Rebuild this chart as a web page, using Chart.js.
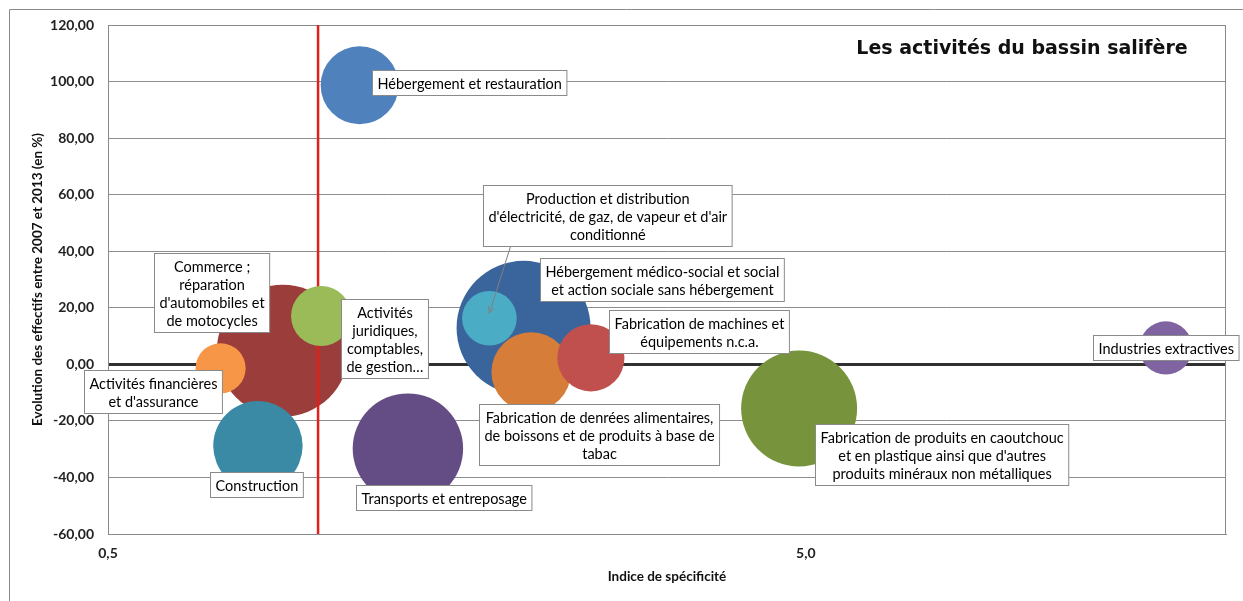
<!DOCTYPE html>
<html lang="fr">
<head>
<meta charset="utf-8">
<title>Les activités du bassin salifère</title>
<script src="https://cdn.jsdelivr.net/npm/chart.js@4.4.1/dist/chart.umd.min.js"></script>
<style>
  html, body { margin: 0; padding: 0; background: #fff; }
  #wrap { width: 1243px; height: 601px; }
</style>
</head>
<body>
<div id="wrap"><canvas id="bassin" width="1243" height="601"></canvas></div>
<script>
// secteurs, du plus bas (dessiné en premier) au plus haut
const secteurs = [
  "Commerce ; réparation d'automobiles et de motocycles",
  "Hébergement médico-social et social et action sociale sans hébergement",
  "Hébergement et restauration",
  "Activités juridiques, comptables, de gestion...",
  "Activités financières et d'assurance",
  "Construction",
  "Transports et entreposage",
  "Production et distribution d'électricité, de gaz, de vapeur et d'air conditionné",
  "Fabrication de denrées alimentaires, de boissons et de produits à base de tabac",
  "Fabrication de machines et équipements n.c.a.",
  "Fabrication de produits en caoutchouc et en plastique ainsi que d'autres produits minéraux non métalliques",
  "Industries extractives"
];
// indice de spécificité
const indice = [0.89, 1.97, 1.147, 1.01, 0.725, 0.82, 1.345, 1.76, 2.02, 2.46, 4.89, 16.4];
// évolution des effectifs 2007-2013 (en %)
const evolution = [4.8, 12.9, 98.7, 17.1, -1.4, -28.8, -29.8, 16.3, -2.7, 2.3, -15.6, 5.8];
// effectifs salariés (taille des bulles)
const effectifs = [2220, 2290, 775, 460, 320, 1020, 1555, 380, 805, 575, 1715, 360];
const ticksIndice = [0.5, 5];
const seuilIndice = 1;

// texte des étiquettes, ligne par ligne
const etiquettes = [
  ['Commerce ;', 'réparation', "d'automobiles et", 'de motocycles'],
  ['Hébergement médico-social et social', 'et action sociale sans hébergement'],
  ['Hébergement et restauration'],
  ['Activités', 'juridiques,', 'comptables,', 'de gestion…'],
  ['Activités financières', "et d'assurance"],
  ['Construction'],
  ['Transports et entreposage'],
  ['Production et distribution', "d'électricité, de gaz, de vapeur et d'air", 'conditionné'],
  ['Fabrication de denrées alimentaires,', 'de boissons et de produits à base de', 'tabac'],
  ['Fabrication de machines et', 'équipements n.c.a.'],
  ['Fabrication de produits en caoutchouc', "et en plastique ainsi que d'autres", 'produits minéraux non métalliques'],
  ['Industries extractives']
];
// décalage du centre de l'étiquette par rapport à la bulle (px)
const decalages = [
  [-71, -58], [138, -48], [110, -3], [63, 23], [-68, 23], [-1, 39],
  [36, 49], [118, -103], [68, 63], [108, -26], [143, 46], [0, 0]
];
const couleurs = [
  '#9B3D3A', '#3A659C', '#4F81BD', '#9BBB59', '#F79646', '#3A8AA5',
  '#644C84', '#4BACC6', '#D67D3A', '#C0504D', '#77933C', '#8064A2'
];

const rayonMax = 67;
const effMax = Math.max(...effectifs);
const n = secteurs.length;

const datasets = secteurs.map((s, i) => ({
  type: 'bubble',
  label: s,
  data: [{ x: indice[i], y: evolution[i], r: rayonMax * Math.sqrt(effectifs[i] / effMax) }],
  backgroundColor: couleurs[i],
  borderWidth: 0,
  order: (n - i) * 2
}));

// ligne verticale rouge : indice = 1
datasets.push({
  type: 'line',
  label: 'seuil',
  data: [{ x: seuilIndice, y: -60 }, { x: seuilIndice, y: 120 }],
  borderColor: '#E0201B',
  borderWidth: 2.5,
  pointRadius: 0,
  order: n * 2 - 1
});

const fond = {
  id: 'fond',
  beforeDraw(chart) {
    const ctx = chart.ctx;
    ctx.save();
    ctx.fillStyle = '#fff';
    ctx.fillRect(0, 0, chart.width, chart.height);
    ctx.strokeStyle = '#8a8a8a';
    ctx.lineWidth = 1;
    ctx.beginPath();
    ctx.moveTo(9.5, chart.height);
    ctx.lineTo(9.5, 9.5);
    ctx.lineTo(chart.width, 9.5);
    ctx.stroke();
    ctx.restore();
  },
  beforeDatasetsDraw(chart) {
    const a = chart.chartArea;
    const ctx = chart.ctx;
    ctx.save();
    ctx.strokeStyle = '#8a8a8a';
    ctx.lineWidth = 1;
    ctx.strokeRect(a.left + 0.5, a.top + 0.5, a.right - a.left - 1, a.bottom - a.top);
    ctx.restore();
  }
};

const etiquettesPlugin = {
  id: 'etiquettes',
  afterDatasetsDraw(chart) {
    const ctx = chart.ctx;
    ctx.save();
    ctx.font = '14.5px Lato';
    ctx.textAlign = 'center';
    ctx.textBaseline = 'middle';
    const lh = 18;
    for (let i = 0; i < n; i++) {
      const el = chart.getDatasetMeta(i).data[0];
      const lignes = etiquettes[i];
      const w = Math.max(...lignes.map(l => ctx.measureText(l).width)) + 10;
      const h = lignes.length * lh + 7;
      const cx = el.x + decalages[i][0];
      const cy = el.y + decalages[i][1];
      const x0 = Math.round(cx - w / 2) + 0.5;
      const y0 = Math.round(cy - h / 2) + 0.5;
      // flèche de rappel pour la production d'électricité
      if (i === 7) {
        const sx = x0 + 27, sy = y0 + h;
        const ex = el.x, ey = el.y - 5;
        ctx.strokeStyle = '#7f7f7f';
        ctx.lineWidth = 1;
        ctx.beginPath();
        ctx.moveTo(sx, sy);
        ctx.lineTo(ex, ey);
        const ang = Math.atan2(ey - sy, ex - sx);
        ctx.moveTo(ex - 7 * Math.cos(ang - 0.45), ey - 7 * Math.sin(ang - 0.45));
        ctx.lineTo(ex, ey);
        ctx.lineTo(ex - 7 * Math.cos(ang + 0.45), ey - 7 * Math.sin(ang + 0.45));
        ctx.stroke();
      }
      ctx.fillStyle = '#fff';
      ctx.fillRect(x0, y0, w, h);
      ctx.strokeStyle = '#8a8a8a';
      ctx.lineWidth = 1;
      ctx.strokeRect(x0, y0, w, h);
      ctx.fillStyle = '#000';
      lignes.forEach((l, k) => {
        ctx.fillText(l, x0 + w / 2, y0 + 3.5 + lh * k + lh / 2 + 1);
      });
    }
    // titre
    ctx.font = 'bold 19px "DejaVu Sans"';
    ctx.fillStyle = '#111';
    ctx.textAlign = 'center';
    ctx.fillText('Les activités du bassin salifère', 1022, 49);
    ctx.restore();
  }
};

new Chart(document.getElementById('bassin'), {
  data: { datasets },
  options: {
    responsive: false,
    animation: false,
    devicePixelRatio: 1,
    layout: { autoPadding: false, padding: { top: 25, right: 17, bottom: 0, left: 0 } },
    plugins: { legend: { display: false }, tooltip: { enabled: false } },
    scales: {
      x: {
        type: 'logarithmic',
        min: 0.5,
        max: 20,
        grid: { display: false, drawTicks: false },
        border: { display: true, color: '#8a8a8a' },
        afterBuildTicks: axis => { axis.ticks = ticksIndice.map(v => ({ value: v })); },
        afterFit: s => { s.height = 67; },
        ticks: {
          padding: 11,
          color: '#222',
          font: { family: 'Lato', size: 14, weight: 'bold' },
          callback: v => Number(v).toFixed(1).replace('.', ',')
        },
        title: {
          display: true,
          text: 'Indice de spécificité',
          color: '#111',
          font: { family: 'Lato', size: 13.5, weight: 'bold' },
          padding: { top: 0, bottom: 16 }
        }
      },
      y: {
        min: -60,
        max: 120,
        grid: {
          drawTicks: false,
          color: c => c.tick && c.tick.value === 0 ? '#303030' : '#8e8e8e',
          lineWidth: c => c.tick && c.tick.value === 0 ? 3 : 1
        },
        border: { display: true, color: '#8a8a8a' },
        afterFit: s => { s.width = 108; },
        ticks: {
          stepSize: 20,
          padding: 14,
          color: '#222',
          font: { family: 'Lato', size: 14, weight: 'bold' },
          callback: v => v.toFixed(2).replace('.', ',')
        },
        title: {
          display: true,
          text: 'Evolution des effectifs entre 2007 et 2013 (en %)',
          color: '#111',
          font: { family: 'Lato', size: 13.5, weight: 'bold' },
          padding: { top: 30, bottom: 0 }
        }
      }
    }
  },
  plugins: [fond, etiquettesPlugin]
});
</script>
</body>
</html>
